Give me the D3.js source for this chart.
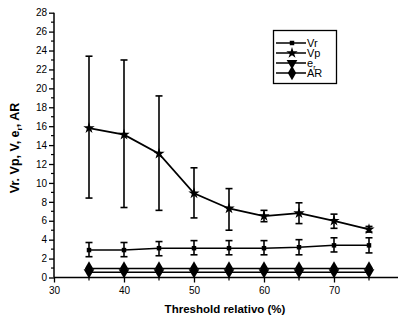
<!DOCTYPE html>
<html>
<head>
<meta charset="utf-8">
<script src="https://cdn.jsdelivr.net/npm/d3@7"></script>
<style>
  body { margin: 0; background: #fff; }
  text { font-family: "Liberation Sans", Arial, sans-serif; fill: #000; }
</style>
</head>
<body>
<div id="chart"></div>
<script>
// threshold values on the x axis
const thresholds = [35, 40, 45, 50, 55, 60, 65, 70, 75];
// Vp (star) with error bars
const vp     = [15.8, 15.1, 13.1, 8.9, 7.3, 6.5, 6.8, 6.0, 5.1];
const vpLow  = [8.4, 7.4, 7.1, 6.3, 5.0, 5.9, 5.7, 5.2, 4.8];
const vpHigh = [23.4, 23.0, 19.2, 11.6, 9.4, 7.1, 7.9, 6.7, 5.4];
// Vr (square) with error bars
const vr     = [2.9, 2.9, 3.1, 3.1, 3.1, 3.1, 3.2, 3.4, 3.4];
const vrLow  = [2.2, 2.2, 2.3, 2.4, 2.4, 2.4, 2.4, 2.7, 2.6];
const vrHigh = [3.7, 3.7, 3.8, 3.9, 3.9, 3.9, 4.0, 4.2, 4.2];
// e_r (down triangle) and AR (diamond)
const er = [0.55, 0.55, 0.55, 0.55, 0.55, 0.55, 0.55, 0.55, 0.55];
const ar = [0.95, 0.95, 0.95, 0.95, 0.95, 0.95, 0.95, 0.95, 0.95];
const yTicks = d3.range(0, 29, 2);
const xTicks = [30, 40, 50, 60, 70, 80];

const W = 398, H = 320;
const svg = d3.select("#chart").append("svg")
  .attr("width", W).attr("height", H);

const x = d3.scaleLinear().domain([30, 80]).range([54, 404]);
const y = d3.scaleLinear().domain([0, 28]).range([277.5, 12.7]);

// Y axis
const yAxis = svg.append("g").attr("transform", "translate(54,0)");
yAxis.call(d3.axisLeft(y).tickValues(yTicks).tickSize(5).tickPadding(2))
  .call(g => g.select(".domain").attr("stroke-width", 1.5).attr("d", `M0,${y(28)}V${y(0)}`));
yAxis.selectAll(".tick line").attr("stroke-width", 1.3);
yAxis.selectAll(".tick text").attr("font-size", 10).attr("font-family", "Liberation Sans, Arial");
yAxis.selectAll(".minor").data(d3.range(1, 28, 2)).enter().append("line")
  .attr("x1", -3).attr("x2", 0).attr("y1", d => y(d)).attr("y2", d => y(d))
  .attr("stroke", "#000").attr("stroke-width", 1.2);

// X axis
const xAxis = svg.append("g").attr("transform", "translate(0,277.5)");
xAxis.call(d3.axisBottom(x).tickValues(xTicks).tickSize(5).tickPadding(4))
  .call(g => g.select(".domain").attr("stroke-width", 1.5).attr("d", `M54,0H404`));
xAxis.selectAll(".tick line").attr("stroke-width", 1.3);
xAxis.selectAll(".tick text").attr("font-size", 10).attr("font-family", "Liberation Sans, Arial");
xAxis.selectAll(".minor").data([35, 45, 55, 65, 75]).enter().append("line")
  .attr("x1", d => x(d)).attr("x2", d => x(d)).attr("y1", 0).attr("y2", 3)
  .attr("stroke", "#000").attr("stroke-width", 1.2);

// axis titles
svg.append("text").attr("x", 225).attr("y", 313).attr("text-anchor", "middle")
  .attr("font-size", 11.5).attr("font-weight", "bold").text("Threshold relativo (%)");
const yt = svg.append("text").attr("transform", "translate(19,148) rotate(-90)")
  .attr("text-anchor", "middle").attr("font-size", 12.5).attr("font-weight", "bold");
yt.append("tspan").text("Vr. Vp, V, e");
yt.append("tspan").attr("font-size", 8).attr("dy", 3).text("r");
yt.append("tspan").attr("dy", -3).text(", AR");

const line = d3.line().x((d, i) => x(thresholds[i])).y(d => y(d));

function errorBars(lo, hi, cap) {
  const g = svg.append("g").attr("stroke", "#000").attr("stroke-width", 1.6);
  thresholds.forEach((t, i) => {
    g.append("line").attr("x1", x(t)).attr("x2", x(t)).attr("y1", y(lo[i])).attr("y2", y(hi[i]));
    g.append("line").attr("x1", x(t) - cap).attr("x2", x(t) + cap).attr("y1", y(lo[i])).attr("y2", y(lo[i]));
    g.append("line").attr("x1", x(t) - cap).attr("x2", x(t) + cap).attr("y1", y(hi[i])).attr("y2", y(hi[i]));
  });
}

const sym = {
  vr: d3.symbol().type(d3.symbolSquare).size(20),
  vp: d3.symbol().type(d3.symbolStar).size(40),
  er: d3.symbol().type(d3.symbolTriangle).size(50),
  ar: d3.symbol().type(d3.symbolDiamond).size(60)
};

function series(vals, s, rot, lw) {
  svg.append("path").datum(vals).attr("d", line).attr("fill", "none")
    .attr("stroke", "#000").attr("stroke-width", lw);
  svg.selectAll(null).data(vals).enter().append("path")
    .attr("d", s)
    .attr("transform", (d, i) => `translate(${x(thresholds[i])},${y(d)}) rotate(${rot})`)
    .attr("fill", "#000");
}

errorBars(vpLow, vpHigh, 3.5);
errorBars(vrLow, vrHigh, 3.5);
series(vp, sym.vp, 0, 1.8);
series(vr, sym.vr, 0, 1.5);
series(er, sym.er, 180, 1.5);
series(ar, sym.ar, 0, 1.5);

// legend
const lg = svg.append("g");
lg.append("rect").attr("x", 273.5).attr("y", 30.5).attr("width", 63).attr("height", 53)
  .attr("fill", "#fff").attr("stroke", "#000").attr("stroke-width", 1.3);
const legendItems = [
  {label: "Vr", s: sym.vr, rot: 0, yy: 43},
  {label: "Vp", s: sym.vp, rot: 0, yy: 53},
  {label: "e", sub: "r", s: sym.er, rot: 180, yy: 63},
  {label: "AR", s: sym.ar, rot: 0, yy: 73}
];
legendItems.forEach(it => {
  lg.append("line").attr("x1", 276).attr("x2", 306).attr("y1", it.yy).attr("y2", it.yy)
    .attr("stroke", "#000").attr("stroke-width", 1.5);
  lg.append("path").attr("d", it.s).attr("fill", "#000")
    .attr("transform", `translate(292,${it.yy}) rotate(${it.rot})`);
  const t = lg.append("text").attr("x", 307).attr("y", it.yy + 4).attr("font-size", 11);
  t.append("tspan").text(it.label);
  if (it.sub) t.append("tspan").attr("font-size", 7).attr("dy", 3).text(it.sub);
});
</script>
</body>
</html>
